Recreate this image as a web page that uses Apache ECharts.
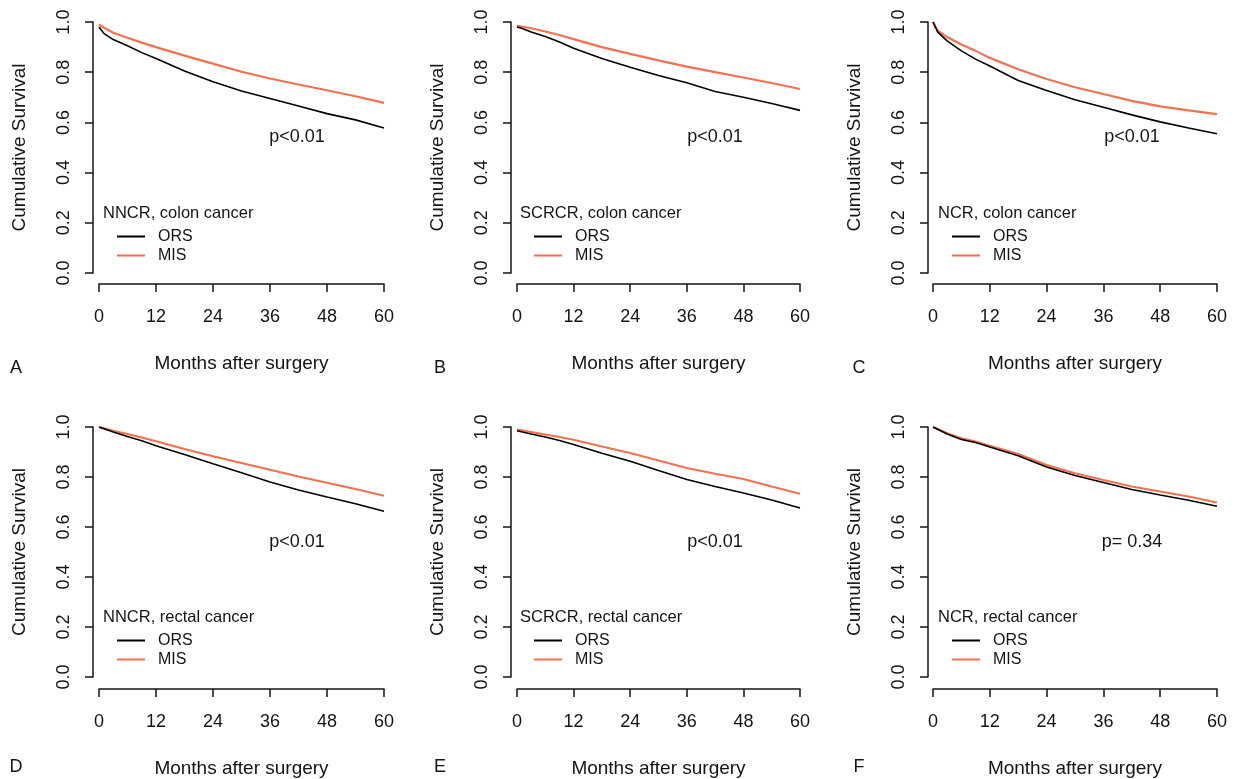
<!DOCTYPE html>
<html>
<head>
<meta charset="utf-8">
<script src="https://cdn.jsdelivr.net/npm/echarts@6/dist/echarts.min.js"></script>
<style>
  html, body { margin: 0; padding: 0; background: #fff; }
  #chart { width: 1236px; height: 779px; }
</style>
</head>
<body>
<div id="chart"></div>
<script>
// months after surgery
const monthsTop = [0, 1, 3, 6, 9, 12, 18, 24, 30, 36, 42, 48, 54, 60];
const monthsBottom = [0, 3, 6, 9, 12, 18, 24, 30, 36, 42, 48, 54, 60];

// colon cancer (top row)
const orsA = [0.98, 0.955, 0.93, 0.905, 0.878, 0.855, 0.805, 0.762, 0.725, 0.695, 0.665, 0.635, 0.61, 0.578];
const misA = [0.99, 0.978, 0.957, 0.937, 0.918, 0.9, 0.866, 0.834, 0.802, 0.775, 0.751, 0.728, 0.704, 0.678];
const orsB = [0.98, 0.975, 0.96, 0.942, 0.92, 0.895, 0.855, 0.82, 0.787, 0.758, 0.723, 0.7, 0.675, 0.648];
const misB = [0.985, 0.982, 0.975, 0.962, 0.948, 0.932, 0.9, 0.873, 0.847, 0.822, 0.8, 0.779, 0.757, 0.733];
const orsC = [1.0, 0.96, 0.925, 0.885, 0.852, 0.825, 0.767, 0.727, 0.69, 0.66, 0.63, 0.602, 0.578, 0.555];
const misC = [1.0, 0.965, 0.94, 0.91, 0.885, 0.857, 0.812, 0.773, 0.74, 0.713, 0.686, 0.664, 0.648, 0.633];

// rectal cancer (bottom row)
const orsD = [1.0, 0.98, 0.962, 0.945, 0.925, 0.89, 0.853, 0.817, 0.78, 0.748, 0.72, 0.693, 0.663];
const misD = [1.0, 0.985, 0.972, 0.958, 0.943, 0.912, 0.883, 0.856, 0.829, 0.802, 0.777, 0.752, 0.725];
const orsE = [0.985, 0.972, 0.96, 0.946, 0.93, 0.895, 0.863, 0.826, 0.79, 0.762, 0.736, 0.708, 0.676];
const misE = [0.99, 0.98, 0.97, 0.96, 0.949, 0.922, 0.896, 0.866, 0.836, 0.813, 0.792, 0.762, 0.733];
const orsF = [1.0, 0.972, 0.95, 0.938, 0.92, 0.885, 0.84, 0.806, 0.778, 0.75, 0.728, 0.707, 0.683];
const misF = [1.0, 0.975, 0.955, 0.942, 0.925, 0.892, 0.848, 0.815, 0.788, 0.762, 0.742, 0.722, 0.698];

const letters = ['A', 'B', 'C', 'D', 'E', 'F'];
const panelTitles = ['NNCR, colon cancer', 'SCRCR, colon cancer', 'NCR, colon cancer',
  'NNCR, rectal cancer', 'SCRCR, rectal cancer', 'NCR, rectal cancer'];
const pValues = ['p<0.01', 'p<0.01', 'p<0.01', 'p<0.01', 'p<0.01', 'p= 0.34'];
const orsSeries = [orsA, orsB, orsC, orsD, orsE, orsF];
const misSeries = [misA, misB, misC, misD, misE, misF];

// layout
const colLeft = [99, 517, 933];
const colWidth = [285, 283, 284];
const rowTop = [22, 427];
const rowHeight = [251, 250];
const yOffset = [6, 6, 5];
const xOffset = [11, 12];
const legendTitleX = [103, 520, 938];
const legendTitleY = [213, 617];
const pX = [297, 715, 1132];
const pY = [137, 542];
const letterX = [16, 440, 859];
const letterY = [368, 767];

const FONT = 'Arial, "Liberation Sans", sans-serif';
const INK = '#141414';
const RED = '#f2714f';

let grids = [], xAxes = [], yAxes = [], series = [], legends = [], texts = [];

for (let i = 0; i < 6; i++) {
  let r = Math.floor(i / 3), c = i % 3;
  let months = r == 0 ? monthsTop : monthsBottom;

  grids.push({ left: colLeft[c], top: rowTop[r], width: colWidth[c], height: rowHeight[r] });

  xAxes.push({
    type: 'value', gridIndex: i, min: 0, max: 60, interval: 12,
    offset: xOffset[r],
    axisLine: { show: true, onZero: false, lineStyle: { color: INK, width: 1.5 } },
    axisTick: { show: true, length: 8, lineStyle: { color: INK, width: 1.5 } },
    axisLabel: { margin: 24, fontSize: 18, color: INK, fontFamily: FONT },
    splitLine: { show: false },
    name: 'Months after surgery', nameLocation: 'middle', nameGap: 70,
    nameTextStyle: { fontSize: 19, color: INK, fontFamily: FONT }
  });

  yAxes.push({
    type: 'value', gridIndex: i, min: 0, max: 1, interval: 0.2,
    offset: yOffset[c],
    axisLine: { show: true, onZero: false, lineStyle: { color: INK, width: 1.5 } },
    axisTick: { show: true, length: 8, lineStyle: { color: INK, width: 1.5 } },
    axisLabel: {
      rotate: 90, margin: 20, fontSize: 18, color: INK, fontFamily: FONT,
      formatter: v => v.toFixed(1)
    },
    splitLine: { show: false },
    name: 'Cumulative Survival', nameLocation: 'middle', nameGap: 64, nameRotate: 90,
    nameTextStyle: { fontSize: 19, color: INK, fontFamily: FONT }
  });

  series.push({
    name: 'MIS', type: 'line', xAxisIndex: i, yAxisIndex: i,
    data: months.map((m, k) => [m, misSeries[i][k]]),
    symbol: 'none', color: RED, lineStyle: { color: RED, width: 2.2 }, z: 2
  });
  series.push({
    name: 'ORS', type: 'line', xAxisIndex: i, yAxisIndex: i,
    data: months.map((m, k) => [m, orsSeries[i][k]]),
    symbol: 'none', color: '#000', lineStyle: { color: '#000', width: 1.6 }, z: 3
  });

  // legend keys drawn as short flat bars, like the R line keys
  legends.push({
    orient: 'vertical', left: legendTitleX[c] + 14, top: legendTitleY[r] + 14,
    padding: 0, icon: 'rect', itemWidth: 28, itemHeight: 2, itemGap: 0,
    selectedMode: false, data: ['ORS', 'MIS'],
    textStyle: { fontSize: 16, lineHeight: 19, color: INK, fontFamily: FONT, padding: [0, 0, 0, 8] }
  });

  texts.push({
    type: 'text', x: legendTitleX[c], y: legendTitleY[r],
    style: { text: panelTitles[i], font: '16.5px ' + FONT, fill: INK,
      textAlign: 'left', textVerticalAlign: 'middle', align: 'left', verticalAlign: 'middle' }
  });
  texts.push({
    type: 'text', x: pX[c], y: pY[r],
    style: { text: pValues[i], font: '18px ' + FONT, fill: INK,
      textAlign: 'center', textVerticalAlign: 'middle', align: 'center', verticalAlign: 'middle' }
  });
  texts.push({
    type: 'text', x: letterX[c], y: letterY[r],
    style: { text: letters[i], font: '18px ' + FONT, fill: INK,
      textAlign: 'center', textVerticalAlign: 'middle', align: 'center', verticalAlign: 'middle' }
  });
}

let chart = echarts.init(document.getElementById('chart'));
chart.setOption({
  animation: false,
  backgroundColor: '#fff',
  grid: grids,
  xAxis: xAxes,
  yAxis: yAxes,
  legend: legends,
  series: series,
  graphic: texts
});
</script>
</body>
</html>
